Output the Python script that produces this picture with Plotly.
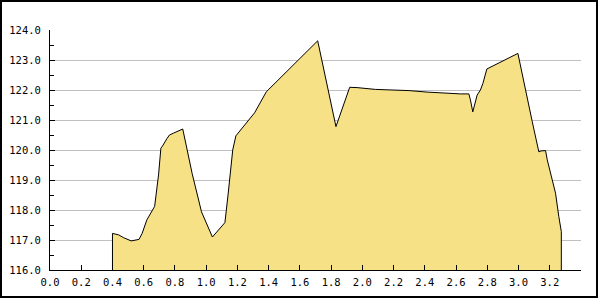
import plotly.graph_objects as go

BASE = 116.0
x_vals = [0.40, 0.44, 0.47, 0.52, 0.57, 0.59, 0.62, 0.67, 0.695, 0.71, 0.72, 0.75, 0.765, 0.79, 0.85,
          0.91, 0.96, 0.97, 1.04, 1.12, 1.14, 1.17, 1.19, 1.31, 1.385, 1.714, 1.831, 1.919, 1.966,
          2.083, 2.19, 2.30, 2.415, 2.521, 2.628, 2.682, 2.692, 2.707, 2.72, 2.735, 2.756, 2.772,
          2.797, 2.996, 3.088, 3.13, 3.145, 3.173, 3.184, 3.222, 3.237, 3.258, 3.274]
y_vals = [117.22, 117.17, 117.08, 116.97, 117.02, 117.22, 117.67, 118.12, 119.17, 120.06, 120.13,
          120.39, 120.50, 120.56, 120.70, 119.22, 118.06, 117.94, 117.10, 117.58, 118.50, 120.0,
          120.47, 121.24, 121.94, 123.64, 120.78, 122.09, 122.08, 122.02, 122.0, 121.98, 121.93,
          121.89, 121.87, 121.87, 121.67, 121.27, 121.56, 121.83, 122.0, 122.22, 122.7, 123.22,
          120.94, 119.94, 119.97, 119.98, 119.67, 118.94, 118.56, 117.78, 117.28]
x_ticks = [0.0, 0.2, 0.4, 0.6, 0.8, 1.0, 1.2, 1.4, 1.6, 1.8, 2.0, 2.2, 2.4, 2.6, 2.8, 3.0, 3.2]
x_tick_text = ["0.0", "0.2", "0.4", "0.6", "0.8", "1.0", "1.2", "1.4", "1.6", "1.8", "2.0",
               "2.2", "2.4", "2.6", "2.8", "3.0", "3.2"]

xs = [x_vals[0]] + x_vals + [x_vals[-1]]
ys = [BASE] + y_vals + [BASE]

fig = go.Figure()
fig.add_trace(go.Scatter(x=xs, y=ys, mode="lines", fill="tozeroy",
                         fillcolor="rgb(246,225,134)",
                         line=dict(color="black", width=1), hoverinfo="skip"))

FONT = dict(family="DejaVu Sans Mono", size=10.5, color="black")
L, R, T, B = 50, 19, 30, 30
fig.update_layout(
    template="none",
    width=600, height=300,
    margin=dict(l=L, r=R, t=T, b=B, pad=0),
    paper_bgcolor="white", plot_bgcolor="white",
    showlegend=False, font=FONT,
    xaxis=dict(range=[0, 3.4], tickvals=x_ticks, ticktext=x_tick_text,
               ticks="inside", ticklen=5, tickcolor="black", showgrid=False,
               showline=True, linecolor="black", linewidth=1, zeroline=False,
               tickfont=FONT, ticklabelstandoff=2, automargin=False),
    yaxis=dict(range=[116, 124], dtick=1, tick0=116, tickformat=".1f",
               ticks="inside", ticklen=5, tickcolor="black",
               showgrid=True, gridcolor="#c0c0c0", gridwidth=1,
               showline=True, linecolor="black", linewidth=1, zeroline=False,
               tickfont=FONT, ticklabelstandoff=6, automargin=False,
               minor=dict(dtick=0.5, ticks="inside", ticklen=4, tickcolor="black", showgrid=False)),
)

pw, ph = 600 - L - R, 300 - T - B
def px(x): return (x - L) / pw
def py(y): return (300 - B - y) / ph
fig.add_shape(type="rect", xref="paper", yref="paper",
              x0=px(1), x1=px(597), y0=py(297), y1=py(1),
              line=dict(color="black", width=2), layer="above")

fig.write_html("out.html")
